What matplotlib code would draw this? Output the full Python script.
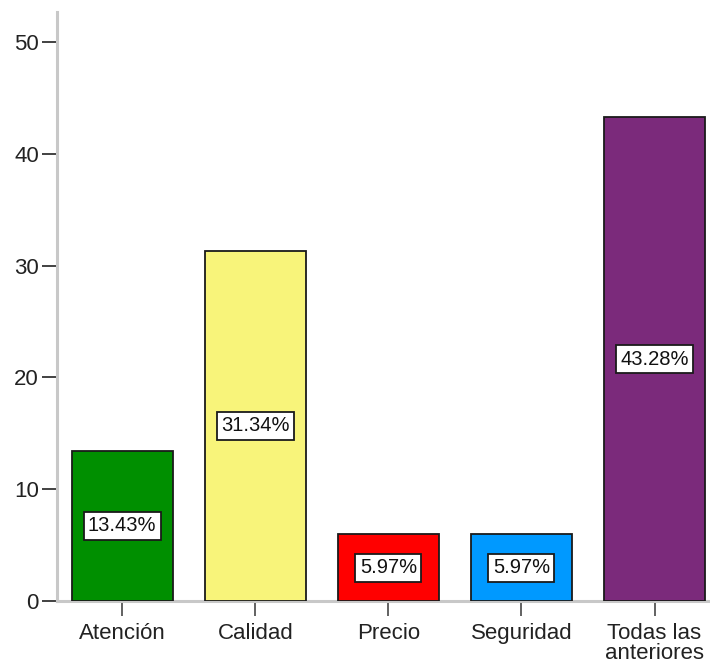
import matplotlib
matplotlib.use('Agg')
import matplotlib.pyplot as plt

categories = ['Atención', 'Calidad', 'Precio', 'Seguridad', 'Todas las\nanteriores']
percentages = [13.43, 31.34, 5.97, 5.97, 43.28]
bar_colors = ['#008f00', '#f8f47a', '#ff0000', '#0099ff', '#7b2a7b']
y_ticks = [0, 10, 20, 30, 40, 50]

plt.rcParams['font.family'] = ['Liberation Sans', 'DejaVu Sans']

fig = plt.figure(figsize=(7.1, 6.64), dpi=100)
ax = fig.add_axes([57 / 710, 63 / 664, 1 - 57 / 710, (601 - 12) / 664])

x = list(range(len(categories)))
bars = ax.bar(x, percentages, width=0.76, color=bar_colors,
              edgecolor='#1a1a1a', linewidth=1.3, zorder=3)

# value labels in white boxes at half bar height
for xi, val in zip(x, percentages):
    ax.text(xi, val / 2, f'{val:.2f}%', ha='center', va='center',
            fontsize=14.5, color='#111111', zorder=4,
            bbox=dict(boxstyle='square,pad=0.22', facecolor='white',
                      edgecolor='#1a1a1a', linewidth=1.3))

ax.set_xlim(-0.49, 4.417)
ax.set_ylim(0, 52.7)
ax.set_yticks(y_ticks)
ax.set_xticks(x)
ax.set_xticklabels(categories, fontsize=16, color='#222222', linespacing=0.9)
ax.tick_params(axis='y', labelsize=16, labelcolor='#222222', length=11,
               width=1.3, color='#333333', pad=2)
ax.tick_params(axis='x', length=11, width=1.3, color='#555555', pad=5)

for side in ['top', 'right']:
    ax.spines[side].set_visible(False)
for side in ['left', 'bottom']:
    ax.spines[side].set_color('#c8c8c8')
    ax.spines[side].set_linewidth(2.2)

fig.savefig('out.png', dpi=100, facecolor='white')
